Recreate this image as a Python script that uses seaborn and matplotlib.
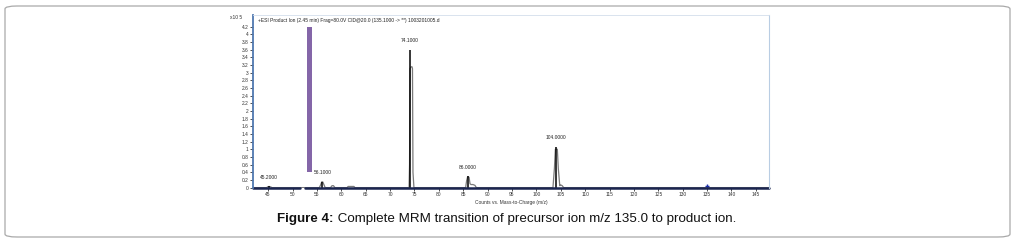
import numpy as np
import pandas as pd
import matplotlib
matplotlib.use('Agg')
import matplotlib.pyplot as plt
import seaborn as sns
from matplotlib.patches import FancyBboxPatch

# ── datos leídos del espectro ───────────────────────────────────────────────
# perfil del espectro (m/z, intensidad x10^5)
perfil_mz  = [41.9, 44.7, 44.9, 45.2, 45.5, 45.8, 55.5, 55.8, 56.0, 56.2, 56.4, 56.7,
              57.8, 58.1, 58.4, 58.7, 61.2, 61.4, 62.6, 62.8, 73.9, 74.0, 74.1, 74.3,
              74.5, 74.6, 74.7, 74.9, 85.5, 85.7, 85.9, 86.2, 86.4, 86.6, 87.0, 87.4,
              87.7, 103.4, 103.7, 103.9, 104.3, 104.5, 104.8, 105.0, 105.3, 105.6, 147.7]
perfil_int = [0.0, 0.0, 0.02, 0.03, 0.02, 0.0, 0.0, 0.08, 0.15, 0.15, 0.09, 0.0,
              0.0, 0.05, 0.05, 0.0, 0.0, 0.03, 0.03, 0.0, 0.0, 0.6, 3.1, 3.15,
              3.15, 3.1, 0.4, 0.0, 0.0, 0.18, 0.28, 0.27, 0.10, 0.08, 0.08, 0.06,
              0.0, 0.0, 0.5, 1.0, 1.0, 0.5, 0.05, 0.07, 0.05, 0.0, 0.0]

# picos centroides etiquetados
picos_mz  = [45.2, 56.1, 74.1, 86.0, 104.0]
picos_int = [0.03, 0.15, 3.58, 0.29, 1.07]
picos_lbl = ['45.2000', '56.1000', '74.1000', '86.0000', '104.0000']

# barra de selección (morada) y precursor
barra_mz, barra_base, barra_tope = 53.4, 0.4, 4.2
precursor_mz, precursor_int = 135.0, 0.05

xticks = list(range(45, 150, 5))
yticks = [round(v * 0.2, 1) for v in range(0, 22)]

titulo = '+ESI Product Ion (2.45 min) Frag=80.0V CID@20.0 (135.1000 -> **) 1003201005.d'
xlabel = 'Counts vs. Mass-to-Charge (m/z)'
caption_b = 'Figure 4:'
caption_t = ' Complete MRM transition of precursor ion m/z 135.0 to product ion.'

# ── figura ──────────────────────────────────────────────────────────────────
sns.set_theme(style='white')
plt.rcParams['font.family'] = ['Liberation Sans', 'DejaVu Sans']

W, H = 1016, 242
fig = plt.figure(figsize=(W / 100, H / 100), dpi=100)
fig.patch.set_facecolor('white')

# marco redondeado exterior
marco = FancyBboxPatch((5 / W, 5 / H), 1005 / W, 231 / H,
                       boxstyle='round,pad=0,rounding_size=0.012',
                       transform=fig.transFigure, facecolor='none',
                       edgecolor='#a9a9a9', linewidth=0.9)
fig.patches.append(marco)

ax = fig.add_axes([253 / W, 1 - 188 / H, (769 - 253) / W, (188 - 15) / H])
ax.set_facecolor('white')

df = pd.DataFrame({'mz': perfil_mz, 'int': perfil_int})
sns.lineplot(data=df, x='mz', y='int', ax=ax, color='#7a7a7a', linewidth=0.9,
             estimator=None, sort=False)
ax.vlines(picos_mz, 0, picos_int, color='black', linewidth=1.1)
for x, y, t in zip(picos_mz, picos_int, picos_lbl):
    ax.annotate(t, (x, y), xytext=(0, 5), textcoords='offset points',
                ha='center', va='bottom', fontsize=3.5, color='#222222')

ax.bar(barra_mz, barra_tope - barra_base, bottom=barra_base, width=1.0,
       color='#8466a8', edgecolor='none', zorder=3)
ax.plot([precursor_mz], [precursor_int], marker='+', color='#1c2fa8',
        markersize=3.5, markeredgewidth=1.0, linestyle='none')

ax.set_xlim(41.9, 147.7)
ax.set_ylim(-0.01, 4.5)
ax.set_xticks(xticks)
ax.set_xticklabels([str(v) for v in xticks], fontsize=3.5, color='#333333')
ax.set_yticks(yticks)
ax.set_yticklabels([f'{v:g}' for v in yticks], fontsize=3.5, color='#333333')
ax.tick_params(axis='both', length=2, width=0.6, pad=1, direction='out',
               color='#333333', left=True, bottom=True)
ax.set_xlabel(xlabel, fontsize=3.5, labelpad=2, color='#333333')
ax.set_ylabel('')

# ejes: izquierdo azul, inferior grueso con corte, resto tenue
ax.spines['left'].set_color('#4f78b0'); ax.spines['left'].set_linewidth(1.3)
ax.spines['top'].set_color('#d3deeb'); ax.spines['top'].set_linewidth(0.6)
ax.spines['right'].set_color('#b9cde3'); ax.spines['right'].set_linewidth(0.8)
ax.spines['bottom'].set_visible(False)
ax.axhline(-0.01, xmin=0, xmax=(51.6 - 41.9) / (147.7 - 41.9), color='#1b2550', linewidth=1.8, clip_on=False)
ax.axhline(-0.01, xmin=(52.6 - 41.9) / (147.7 - 41.9), xmax=1, color='#1b2550', linewidth=1.8, clip_on=False)

ax.text(0.01, 0.985, titulo, transform=ax.transAxes, fontsize=3.5,
        ha='left', va='top', color='#222222')
ax.text(-0.045, 1.0, 'x10 5', transform=ax.transAxes, fontsize=3.5,
        ha='left', va='top', color='#333333')

# pie de figura
t1 = fig.text(277 / W, 1 - 219 / H, caption_b, fontsize=9.6, fontweight='bold',
              ha='left', va='center', color='#111111')
fig.canvas.draw()
bb = t1.get_window_extent()
fig.text(bb.x1 / W, 1 - 219 / H, caption_t, fontsize=9.6, ha='left', va='center',
         color='#111111')

fig.savefig('out.png', dpi=100, facecolor='white')
